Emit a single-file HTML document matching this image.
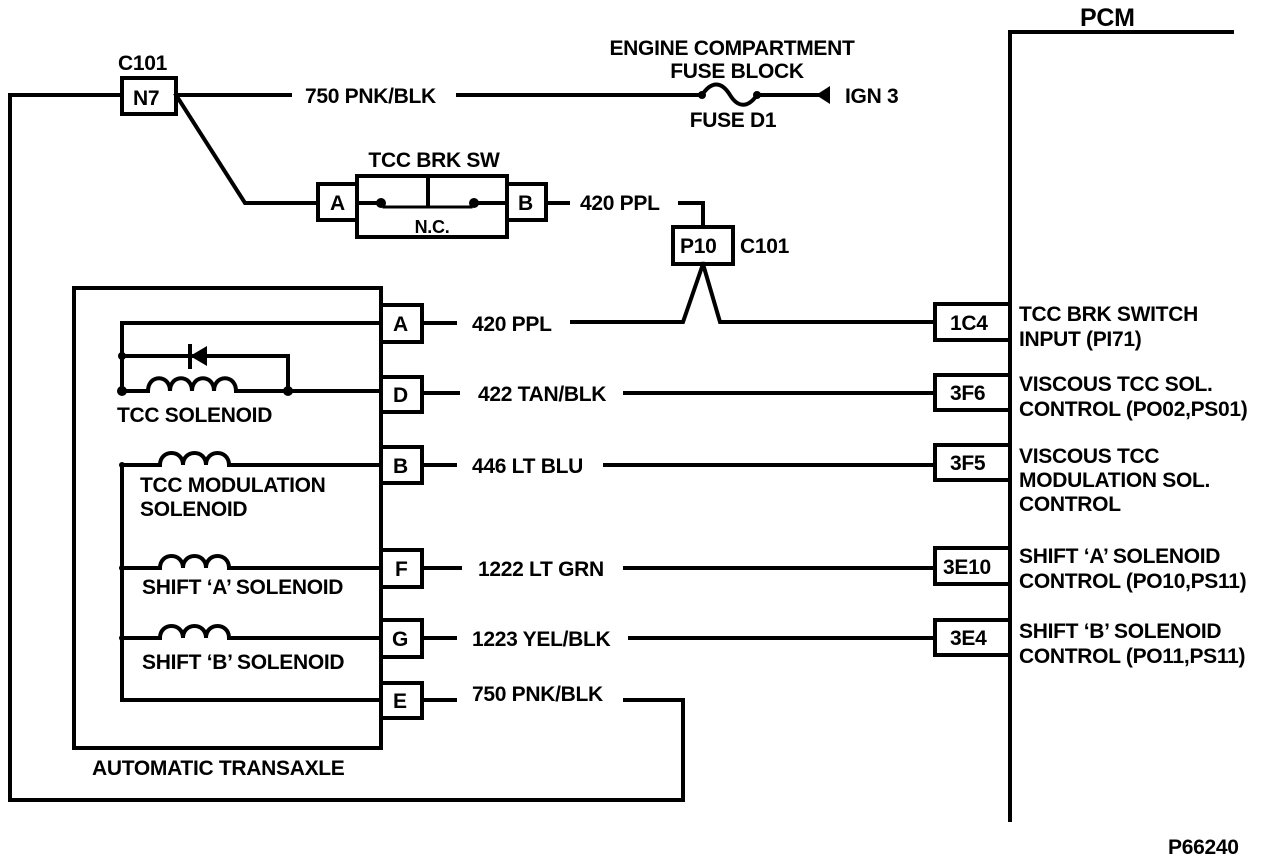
<!DOCTYPE html>
<html><head><style>
html,body{margin:0;padding:0;background:#fff;}
svg{display:block;}
text{font-family:"Liberation Sans",sans-serif;font-weight:bold;font-size:21px;fill:#000;letter-spacing:-0.3px;}
</style></head><body>
<svg width="1280" height="860" viewBox="0 0 1280 860" xmlns="http://www.w3.org/2000/svg">
<g stroke="#000" stroke-width="4" fill="none" stroke-linecap="square">
<polyline points="122,95 10,95 10,800 683,800 683,700 625,700"/>
<rect x="122" y="78" width="54" height="36"/>
<line x1="176" y1="95" x2="290" y2="95"/>
<line x1="458" y1="95" x2="702" y2="95"/>
<path d="M702,95 C712,80 722,82 730,95 C738,108 748,108 757,95"/>
<line x1="757" y1="95" x2="818" y2="95"/>
<polyline points="176,95 245,203 318,203"/>
<rect x="318" y="184" width="39" height="36"/>
<rect x="357" y="176" width="150" height="61"/>
<line x1="428" y1="176" x2="428" y2="205"/>
<line x1="357" y1="203" x2="381" y2="203"/>
<line x1="474" y1="203" x2="507" y2="203"/>
<line x1="384" y1="207" x2="471" y2="207" stroke-width="3"/>
<rect x="507" y="184" width="39" height="36"/>
<line x1="546" y1="203" x2="568" y2="203"/>
<polyline points="680,203 703,203 703,227"/>
<rect x="673" y="227" width="60" height="37"/>
<polyline points="703,264 683,322 572,322"/>
<polyline points="703,264 720,322 935,322"/>
<polyline points="1232,32 1010,32 1010,820"/>
<rect x="935" y="304" width="75" height="36"/>
<rect x="935" y="375" width="75" height="35"/>
<rect x="935" y="445" width="75" height="35"/>
<rect x="935" y="548" width="75" height="36"/>
<rect x="935" y="620" width="75" height="35"/>
<rect x="74" y="288" width="307" height="460"/>
<rect x="381" y="305" width="41" height="37"/>
<rect x="381" y="377" width="41" height="35"/>
<rect x="381" y="447" width="41" height="36"/>
<rect x="381" y="550" width="41" height="37"/>
<rect x="381" y="620" width="41" height="37"/>
<rect x="381" y="683" width="41" height="35"/>
<line x1="422" y1="323" x2="455" y2="323"/>
<line x1="422" y1="393" x2="458" y2="393"/><line x1="625" y1="393" x2="935" y2="393"/>
<line x1="422" y1="465" x2="455" y2="465"/><line x1="605" y1="465" x2="935" y2="465"/>
<line x1="422" y1="568" x2="460" y2="568"/><line x1="625" y1="568" x2="935" y2="568"/>
<line x1="422" y1="638" x2="455" y2="638"/><line x1="630" y1="638" x2="935" y2="638"/>
<line x1="422" y1="700" x2="455" y2="700"/>
<polyline points="381,323 122,323 122,391 148,391"/>
<polyline points="122,356 288,356 288,391"/>
<path d="M148,391 C148,374 170,374 170,391 C170,374 192,374 192,391 C192,374 214,374 214,391 C214,374 236,374 236,391"/>
<line x1="236" y1="391" x2="381" y2="391"/>
<polyline points="122,465 122,700 381,700"/>
<g>
<line x1="122" y1="465" x2="160" y2="465"/>
<path d="M160,465 C160,449 183,449 183,465 C183,449 206,449 206,465 C206,449 229,449 229,465"/>
<line x1="229" y1="465" x2="381" y2="465"/>
<line x1="122" y1="568" x2="160" y2="568"/>
<path d="M160,568 C160,552 183,552 183,568 C183,552 206,552 206,568 C206,552 229,552 229,568"/>
<line x1="229" y1="568" x2="381" y2="568"/>
<line x1="122" y1="638" x2="160" y2="638"/>
<path d="M160,638 C160,622 183,622 183,638 C183,622 206,622 206,638 C206,622 229,622 229,638"/>
<line x1="229" y1="638" x2="381" y2="638"/>
</g>
<line x1="190" y1="346" x2="190" y2="367"/>
</g>
<g fill="#000">
<polygon points="190,356 207,346 207,366"/>
<polygon points="816,95 830,86 830,104"/>
<circle cx="702" cy="95" r="4"/><circle cx="757" cy="95" r="4"/>
<circle cx="381" cy="203" r="5"/><circle cx="474" cy="203" r="5"/>
<circle cx="122" cy="356" r="4"/><circle cx="122" cy="391" r="5"/><circle cx="288" cy="391" r="5"/>
<circle cx="122" cy="465" r="3"/><circle cx="122" cy="568" r="3"/><circle cx="122" cy="638" r="3"/>
</g>
<text x="1080" y="26" style="font-size:25px">PCM</text>
<text x="118" y="70">C101</text>
<text x="133" y="105">N7</text>
<text x="305" y="103">750 PNK/BLK</text>
<text x="732" y="55" text-anchor="middle">ENGINE COMPARTMENT</text>
<text x="737" y="78" text-anchor="middle">FUSE BLOCK</text>
<text x="733" y="127" text-anchor="middle">FUSE D1</text>
<text x="845" y="103">IGN 3</text>
<text x="434" y="167" text-anchor="middle">TCC BRK SW</text>
<text x="330" y="210">A</text>
<text x="518" y="210">B</text>
<text x="432" y="233" text-anchor="middle" style="font-size:18px">N.C.</text>
<text x="580" y="210">420 PPL</text>
<text x="680" y="253">P10</text>
<text x="740" y="253">C101</text>
<text x="472" y="331">420 PPL</text>
<text x="478" y="401">422 TAN/BLK</text>
<text x="472" y="473">446 LT BLU</text>
<text x="478" y="576">1222 LT GRN</text>
<text x="472" y="646">1223 YEL/BLK</text>
<text x="472" y="701">750 PNK/BLK</text>
<text x="393" y="331">A</text>
<text x="393" y="402">D</text>
<text x="393" y="473">B</text>
<text x="395" y="576">F</text>
<text x="392" y="646">G</text>
<text x="393" y="708">E</text>
<text x="117" y="422">TCC SOLENOID</text>
<text x="140" y="492">TCC MODULATION</text>
<text x="140" y="516">SOLENOID</text>
<text x="142" y="594">SHIFT ‘A’ SOLENOID</text>
<text x="142" y="669">SHIFT ‘B’ SOLENOID</text>
<text x="92" y="775">AUTOMATIC TRANSAXLE</text>
<text x="950" y="330">1C4</text>
<text x="950" y="400">3F6</text>
<text x="950" y="470">3F5</text>
<text x="943" y="574">3E10</text>
<text x="950" y="645">3E4</text>
<text x="1019" y="321">TCC BRK SWITCH</text>
<text x="1019" y="346">INPUT (PI71)</text>
<text x="1019" y="391">VISCOUS TCC SOL.</text>
<text x="1019" y="416">CONTROL (PO02,PS01)</text>
<text x="1019" y="463">VISCOUS TCC</text>
<text x="1019" y="487">MODULATION SOL.</text>
<text x="1019" y="511">CONTROL</text>
<text x="1019" y="563">SHIFT ‘A’ SOLENOID</text>
<text x="1019" y="588">CONTROL (PO10,PS11)</text>
<text x="1019" y="638">SHIFT ‘B’ SOLENOID</text>
<text x="1019" y="663">CONTROL (PO11,PS11)</text>
<text x="1168" y="854">P66240</text>
</svg>
</body></html>
